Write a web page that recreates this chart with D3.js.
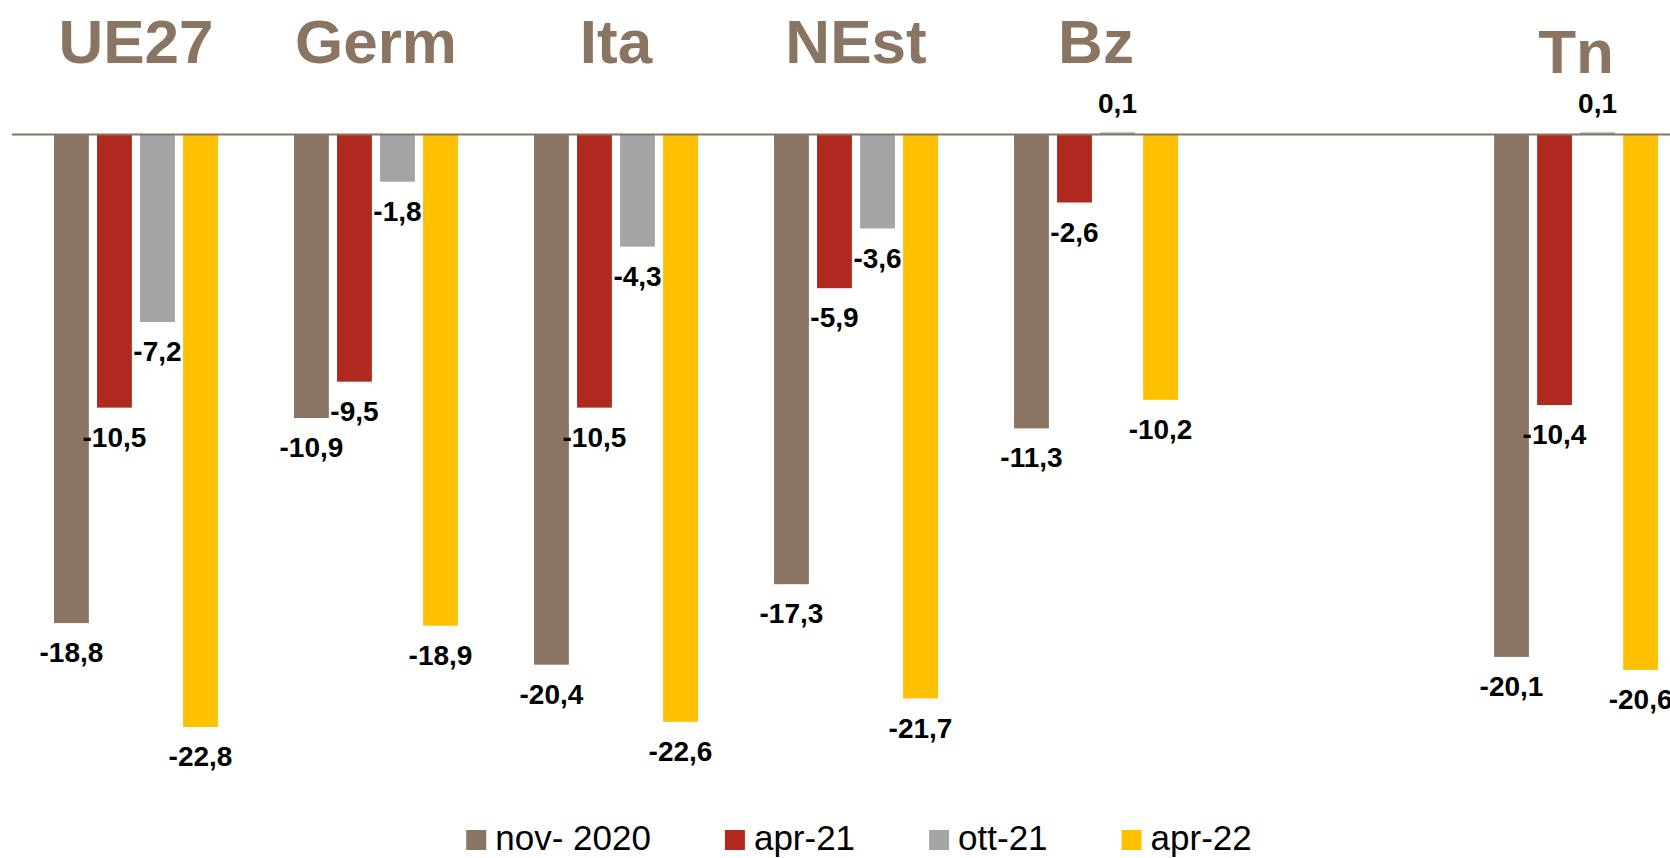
<!DOCTYPE html>
<html>
<head>
<meta charset="utf-8">
<script src="https://cdn.jsdelivr.net/npm/d3@7"></script>
<style>
  body { margin: 0; background: #fff; }
  svg { display: block; font-family: "Liberation Sans", Arial, sans-serif; }
</style>
</head>
<body>
<div id="chart"></div>
<script>
// categories (the empty one is a blank slot in the original chart)
var categories = ["UE27", "Germ", "Ita", "NEst", "Bz", "", "Tn"];
var seriesNames = ["nov- 2020", "apr-21", "ott-21", "apr-22"];

var nov2020 = [-18.8, -10.9, -20.4, -17.3, -11.3, null, -20.1];
var apr21   = [-10.5,  -9.5, -10.5,  -5.9,  -2.6, null, -10.4];
var ott21   = [ -7.2,  -1.8,  -4.3,  -3.6,   0.1, null,   0.1];
var apr22   = [-22.8, -18.9, -22.6, -21.7, -10.2, null, -20.6];

var width = 1670, height = 858;
var brown = "#8a7562";
var colors = [brown, "#b0291f", "#a5a5a5", "#ffc000"];
var seriesValues = [nov2020, apr21, ott21, apr22];

var rows = [];
categories.forEach(function(c, i) {
    seriesValues.forEach(function(vals, s) {
        if (vals[i] != null) rows.push({cat: c, series: seriesNames[s], s: s, value: vals[i]});
    });
});

var svg = d3.select("#chart").append("svg")
    .attr("width", width)
    .attr("height", height);

var x0 = d3.scaleBand()
    .domain(categories.map(function(d, i) { return i; }))
    .range([12, 1700])
    .paddingInner(0.317)
    .paddingOuter(0.175);

var x1 = d3.scaleBand()
    .domain(seriesNames)
    .range([0, x0.bandwidth()])
    .paddingInner(0.19);

var y = d3.scaleLinear()
    .domain([0, -22.8])
    .range([135, 727]);

// Italian style: comma decimals, plain hyphen for minus
function fmt(v) { return v.toFixed(1).replace(".", ","); }
function xPos(d) { return x0(categories.indexOf(d.cat)) + x1(d.series); }

// bars
svg.append("g").selectAll("rect").data(rows).enter().append("rect")
    .attr("x", xPos)
    .attr("width", x1.bandwidth())
    .attr("y", function(d) { return Math.min(y(0), y(d.value)); })
    .attr("height", function(d) { return Math.abs(y(d.value) - y(0)); })
    .attr("fill", function(d) { return colors[d.s]; });

// zero line
svg.append("line")
    .attr("x1", 12).attr("x2", width)
    .attr("y1", y(0) - 0.5).attr("y2", y(0) - 0.5)
    .attr("stroke", brown)
    .attr("stroke-width", 2);

// value labels
svg.append("g").selectAll("text").data(rows).enter().append("text")
    .attr("x", function(d) { return xPos(d) + x1.bandwidth() / 2; })
    .attr("y", function(d) { return d.value < 0 ? y(d.value) + 29 : y(d.value) - 29; })
    .attr("dy", "0.36em")
    .attr("text-anchor", "middle")
    .attr("font-size", 28)
    .attr("font-weight", "bold")
    .attr("fill", "#000")
    .text(function(d) { return fmt(d.value); });

// group titles
var titleDrop = {"Tn": 10};
svg.append("g").selectAll("text")
    .data(categories.filter(function(c) { return c !== ""; }))
    .enter().append("text")
    .attr("x", function(c) { return x0(categories.indexOf(c)) + x0.bandwidth() / 2; })
    .attr("y", function(c) { return 63 + (titleDrop[c] || 0); })
    .attr("text-anchor", "middle")
    .attr("font-size", 62)
    .attr("font-weight", "bold")
    .attr("fill", brown)
    .text(function(c) { return c; });

// legend
var legend = svg.append("g");
var items = legend.selectAll("g").data(seriesNames).enter().append("g");
items.append("rect")
    .attr("width", 20).attr("height", 20)
    .attr("y", 830)
    .attr("fill", function(d, i) { return colors[i]; });
items.append("text")
    .attr("x", 29)
    .attr("y", 850)
    .attr("font-size", 35)
    .attr("fill", "#000")
    .text(function(d) { return d; });

var lx = 0, offsets = [];
items.each(function() {
    offsets.push(lx);
    lx += 29 + this.querySelector("text").getComputedTextLength() + 74;
});
var total = lx - 74;
var start = 859 - total / 2;
items.attr("transform", function(d, i) { return "translate(" + (start + offsets[i]) + ",0)"; });
</script>
</body>
</html>
